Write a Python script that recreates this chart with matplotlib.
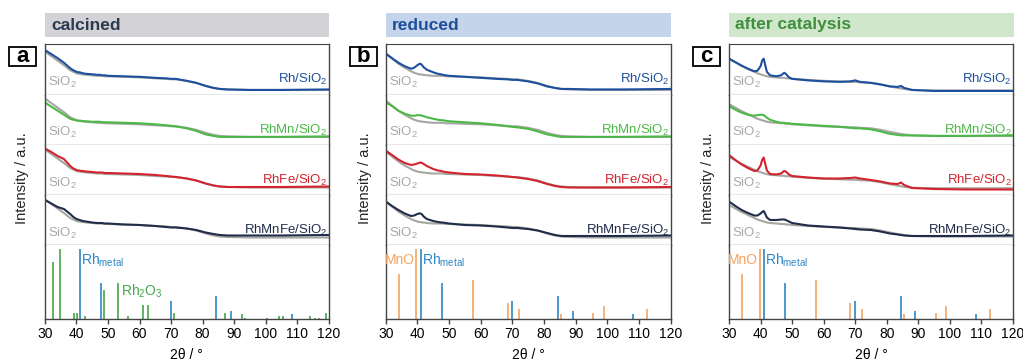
import matplotlib.pyplot as plt
from matplotlib.patches import Rectangle

plt.rcParams['font.family'] = ['Liberation Sans', 'DejaVu Sans']
plt.rcParams['mathtext.default'] = 'regular'

# ---------------------------------------------
# data (normalised intensity per row)
# ---------------------------------------------
two_theta = [30, 32, 34, 36, 38, 39, 40, 40.5, 41, 41.5, 42, 43, 45, 46.5, 47.5, 48, 49, 50,
             55, 60, 65, 68.5, 70, 71.5, 75, 78, 81, 83.5, 84.5, 85.5, 88, 95, 105, 120]

sio2_a = [0.84, 0.75, 0.66, 0.57, 0.47, 0.44, 0.41, 0.40, 0.40, 0.39, 0.39, 0.38, 0.37, 0.36, 0.36, 0.36, 0.35, 0.35,
          0.34, 0.33, 0.31, 0.30, 0.29, 0.29, 0.26, 0.22, 0.16, 0.12, 0.11, 0.10, 0.09, 0.08, 0.08, 0.08]
sio2_b = [0.80, 0.70, 0.60, 0.52, 0.45, 0.42, 0.40, 0.39, 0.39, 0.38, 0.38, 0.37, 0.36, 0.36, 0.36, 0.36, 0.35, 0.35,
          0.34, 0.33, 0.31, 0.30, 0.29, 0.29, 0.26, 0.22, 0.16, 0.12, 0.11, 0.10, 0.09, 0.08, 0.08, 0.08]
sio2_c = [0.70, 0.63, 0.56, 0.50, 0.44, 0.41, 0.39, 0.38, 0.37, 0.36, 0.35, 0.34, 0.33, 0.32, 0.32, 0.31, 0.31, 0.30,
          0.28, 0.26, 0.25, 0.24, 0.24, 0.23, 0.22, 0.19, 0.15, 0.12, 0.11, 0.10, 0.08, 0.07, 0.07, 0.07]

# calcined
a_rh = [0.88, 0.80, 0.72, 0.63, 0.52, 0.48, 0.45, 0.44, 0.44, 0.43, 0.42, 0.41, 0.40, 0.39, 0.39, 0.38, 0.38, 0.37,
        0.36, 0.35, 0.33, 0.32, 0.31, 0.31, 0.27, 0.23, 0.17, 0.13, 0.12, 0.11, 0.10, 0.09, 0.09, 0.10]
a_rhmn = [0.84, 0.76, 0.68, 0.60, 0.52, 0.50, 0.49, 0.48, 0.48, 0.48, 0.47, 0.47, 0.46, 0.46, 0.46, 0.45, 0.45, 0.45,
          0.44, 0.43, 0.41, 0.39, 0.38, 0.37, 0.33, 0.28, 0.21, 0.18, 0.17, 0.16, 0.16, 0.16, 0.16, 0.17]
a_rhfe = [0.93, 0.86, 0.78, 0.72, 0.58, 0.53, 0.50, 0.49, 0.49, 0.48, 0.48, 0.47, 0.46, 0.45, 0.45, 0.45, 0.44, 0.44,
          0.43, 0.42, 0.40, 0.38, 0.37, 0.36, 0.33, 0.29, 0.23, 0.19, 0.18, 0.17, 0.16, 0.16, 0.16, 0.17]
a_rhmnfe = [0.90, 0.83, 0.76, 0.72, 0.62, 0.56, 0.52, 0.51, 0.50, 0.49, 0.48, 0.47, 0.45, 0.44, 0.44, 0.44, 0.43, 0.43,
            0.41, 0.40, 0.38, 0.36, 0.35, 0.35, 0.33, 0.30, 0.25, 0.22, 0.21, 0.20, 0.19, 0.19, 0.19, 0.20]

# reduced
b_rh = [0.81, 0.72, 0.63, 0.56, 0.51, 0.53, 0.58, 0.60, 0.61, 0.58, 0.54, 0.49, 0.44, 0.41, 0.40, 0.39, 0.38, 0.37,
        0.35, 0.33, 0.31, 0.30, 0.29, 0.29, 0.26, 0.22, 0.16, 0.13, 0.12, 0.11, 0.11, 0.10, 0.10, 0.11]
b_rhmn = [0.85, 0.77, 0.68, 0.62, 0.58, 0.58, 0.59, 0.59, 0.59, 0.58, 0.57, 0.55, 0.52, 0.50, 0.49, 0.49, 0.48, 0.47,
          0.45, 0.43, 0.40, 0.37, 0.36, 0.35, 0.32, 0.27, 0.21, 0.18, 0.17, 0.16, 0.16, 0.16, 0.16, 0.17]
b_rhfe = [0.89, 0.80, 0.71, 0.64, 0.60, 0.61, 0.63, 0.64, 0.65, 0.64, 0.62, 0.58, 0.52, 0.49, 0.48, 0.47, 0.46, 0.45,
          0.42, 0.41, 0.39, 0.37, 0.36, 0.35, 0.32, 0.28, 0.22, 0.18, 0.17, 0.16, 0.15, 0.15, 0.15, 0.16]
b_rhmnfe = [0.87, 0.78, 0.70, 0.63, 0.58, 0.59, 0.62, 0.63, 0.63, 0.61, 0.57, 0.52, 0.48, 0.46, 0.45, 0.45, 0.44, 0.43,
            0.40, 0.39, 0.37, 0.35, 0.34, 0.34, 0.32, 0.29, 0.24, 0.20, 0.19, 0.18, 0.18, 0.18, 0.18, 0.19]

# after catalysis
c_rh = [0.71, 0.64, 0.57, 0.51, 0.46, 0.47, 0.56, 0.67, 0.71, 0.58, 0.45, 0.38, 0.36, 0.38, 0.43, 0.41, 0.34, 0.31,
        0.28, 0.26, 0.25, 0.26, 0.28, 0.25, 0.23, 0.20, 0.16, 0.15, 0.17, 0.13, 0.09, 0.07, 0.07, 0.07]
c_rhmn = [0.77, 0.70, 0.64, 0.60, 0.58, 0.59, 0.60, 0.60, 0.59, 0.57, 0.54, 0.50, 0.46, 0.44, 0.44, 0.43, 0.43, 0.42,
          0.40, 0.38, 0.36, 0.34, 0.33, 0.33, 0.31, 0.27, 0.22, 0.20, 0.19, 0.19, 0.19, 0.18, 0.18, 0.19]
c_rhfe = [0.80, 0.70, 0.61, 0.54, 0.48, 0.49, 0.59, 0.70, 0.75, 0.62, 0.49, 0.42, 0.41, 0.43, 0.48, 0.47, 0.41, 0.38,
          0.35, 0.33, 0.33, 0.34, 0.35, 0.33, 0.30, 0.27, 0.23, 0.22, 0.25, 0.20, 0.14, 0.12, 0.11, 0.11]
c_rhmnfe = [0.87, 0.78, 0.70, 0.64, 0.59, 0.59, 0.63, 0.66, 0.68, 0.62, 0.55, 0.50, 0.50, 0.51, 0.51, 0.50, 0.47, 0.44,
            0.39, 0.37, 0.35, 0.33, 0.32, 0.31, 0.30, 0.27, 0.23, 0.21, 0.20, 0.19, 0.18, 0.18, 0.18, 0.19]

# reference patterns
rh_metal_pos = [41.0, 47.8, 69.9, 84.4, 89.1, 108.3]
rh_metal_int = [1.0, 0.51, 0.26, 0.33, 0.12, 0.07]
rh2o3_pos = [32.6, 34.8, 39.1, 40.3, 42.7, 48.7, 53.2, 56.3, 61.2, 62.7, 71.1, 87.0, 92.5, 93.6,
             100.4, 104.3, 105.5, 114.0, 115.8, 117.1, 119.3]
rh2o3_int = [0.81, 1.0, 0.08, 0.08, 0.05, 0.41, 0.51, 0.05, 0.20, 0.20, 0.08, 0.09, 0.07, 0.02,
             0.01, 0.05, 0.05, 0.05, 0.01, 0.01, 0.09]
mno_pos = [34.2, 39.7, 57.5, 68.5, 72.1, 85.5, 95.5, 98.9, 112.6]
mno_int = [0.64, 1.0, 0.56, 0.23, 0.15, 0.07, 0.08, 0.18, 0.14]

sample_names = ['Rh/SiO$_2$', 'RhMn/SiO$_2$', 'RhFe/SiO$_2$', 'RhMnFe/SiO$_2$']
sample_colors = ['#1e4f9f', '#4cb847', '#d2232f', '#1f2d4b']

panels = [
    dict(letter='a', title='calcined', bar='#d3d3d7', tcol='#2b3a4e',
         curves=[a_rh, a_rhmn, a_rhfe, a_rhmnfe], sio2=sio2_a, shift=[0.01, 0.08, 0.07, 0.07],
         left=45, right=328.5, ylab_x=22, box_x=9),
    dict(letter='b', title='reduced', bar='#c4d4ea', tcol='#1f4f9c',
         curves=[b_rh, b_rhmn, b_rhfe, b_rhmnfe], sio2=sio2_b, shift=[0.01, 0.08, 0.07, 0.07],
         left=385.7, right=670.5, ylab_x=365, box_x=350),
    dict(letter='c', title='after catalysis', bar='#d0e7cc', tcol='#3f8f3f',
         curves=[c_rh, c_rhmn, c_rhfe, c_rhmnfe], sio2=sio2_c, shift=[0.01, 0.11, 0.065, 0.10],
         left=729, right=1013, ylab_x=708, box_x=693),
]

# =============================
# layout in pixels
# =============================
W, H = 1023, 364
fig = plt.figure(figsize=(W / 100, H / 100), dpi=100)
row_edges = [44, 94.5, 145, 195, 245, 319]
frame = '#444444'
sep = '#8c8c8c'
grey = '#a6a6a2'


def px_axes(x0, y0, x1, y1):
    return fig.add_axes([x0 / W, 1 - y1 / H, (x1 - x0) / W, (y1 - y0) / H])


for i, p in enumerate(panels):
    l, r = p['left'], p['right']

    # header bar
    fig.add_artist(Rectangle((l / W, 1 - 37 / H), (r - l + 0.5) / W, 24 / H,
                             transform=fig.transFigure, fc=p['bar'], ec='none'))
    fig.text((l + 6) / W, 1 - 25 / H, p['title'], fontsize=12.5, fontweight='bold',
             color=p['tcol'], ha='left', va='center')

    # letter box
    fig.add_artist(Rectangle((p['box_x'] / W, 1 - 66 / H), 27 / W, 19 / H,
                             transform=fig.transFigure, fc='white', ec='black', lw=1.3))
    fig.text((p['box_x'] + 13.5) / W, 1 - 56.5 / H, p['letter'], fontsize=16, fontweight='bold',
             ha='center', va='center')

    fig.text(p['ylab_x'] / W, 1 - 178 / H, 'Intensity / a.u.', rotation=90, fontsize=10.5,
             ha='center', va='center', color='#222222')

    # sample rows
    for k in range(4):
        ax = px_axes(l, row_edges[k], r, row_edges[k + 1])
        base = [v + p['shift'][k] for v in p['sio2']]
        ax.plot(two_theta, base, color=grey, lw=1.5)
        ax.plot(two_theta, p['curves'][k], color=sample_colors[k], lw=1.5)
        ax.set_xlim(30, 120)
        ax.set_ylim(0, 1)
        ax.set_xticks([])
        ax.set_yticks([])
        for s in ['left', 'right']:
            ax.spines[s].set_color(frame)
            ax.spines[s].set_linewidth(1.0)
        ax.spines['top'].set_visible(k == 0)
        ax.spines['top'].set_color(frame)
        ax.spines['bottom'].set_color(sep)
        ax.spines['bottom'].set_linewidth(1.0)
        ax.text(0.01, 0.24, 'SiO$_2$', transform=ax.transAxes, color='#a8a8a8', fontsize=9.5,
                ha='left', va='center')
        ax.text(0.995, 0.29, sample_names[k], transform=ax.transAxes, color=sample_colors[k],
                fontsize=9.5, ha='right', va='center')

    # reference row
    ax = px_axes(l, row_edges[4], r, row_edges[5])
    ax.vlines(rh_metal_pos, 0, rh_metal_int, color='#2c86c6', lw=1.2)
    if i == 0:
        ax.vlines(rh2o3_pos, 0, rh2o3_int, color='#44a648', lw=1.2)
        ax.text(54.0, 0.40, 'Rh$_2$O$_3$', color='#44a648', fontsize=10, ha='left', va='center')
    else:
        ax.vlines(mno_pos, 0, mno_int, color='#f4a461', lw=1.2)
        ax.text(39.2, 0.84, 'MnO', color='#f4a461', fontsize=10, ha='right', va='center')
    ax.text(41.5, 0.84, 'Rh$_{metal}$', color='#2c86c6', fontsize=10, ha='left', va='center')
    ax.set_xlim(30, 120)
    ax.set_ylim(0, 1.06)
    ax.set_yticks([])
    ax.set_xticks(range(30, 121, 10))
    ax.tick_params(axis='x', direction='out', length=3.5, width=1.0, labelsize=10,
                   color=frame, pad=2)
    ax.spines['top'].set_visible(False)
    for s in ['left', 'right', 'bottom']:
        ax.spines[s].set_color(frame)
        ax.spines[s].set_linewidth(1.0)
    ax.set_xlabel('2θ / °', fontsize=10, labelpad=5)

fig.savefig('out.png', dpi=100)
